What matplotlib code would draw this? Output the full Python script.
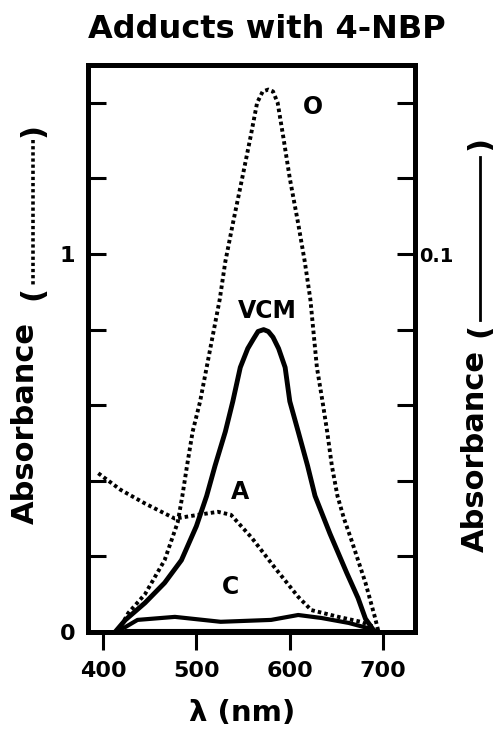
import numpy as np
import matplotlib
matplotlib.use('Agg')
import matplotlib.pyplot as plt
from matplotlib.lines import Line2D

plt.rcParams['font.family'] = ['DejaVu Sans']
plt.rcParams['font.weight'] = 'bold'

# curve O (dotted, left axis)
o_nm = [416, 427, 445, 466, 480, 485, 490, 496, 504, 511, 518, 525, 531, 539, 549, 558, 565, 571, 577,
        582, 587, 593, 600, 609, 616, 622, 629, 635, 640, 645, 651, 658, 666, 681, 691, 695]
o_abs = [0.0, 0.05, 0.10, 0.19, 0.29, 0.36, 0.44, 0.53, 0.61, 0.70, 0.79, 0.88, 0.98, 1.08, 1.20, 1.31, 1.40, 1.43, 1.435,
         1.43, 1.40, 1.31, 1.20, 1.08, 0.98, 0.88, 0.70, 0.61, 0.53, 0.44, 0.36, 0.30, 0.243, 0.13, 0.04, 0.0]

# curve VCM (solid)
vcm_nm = [413, 424, 445, 466, 484, 500, 511, 520, 531, 539, 547, 555, 561, 566, 572, 577, 582, 588,
          595, 600, 609, 619, 627, 643, 661, 673, 681, 691]
vcm_abs = [0.0, 0.032, 0.077, 0.13, 0.19, 0.28, 0.36, 0.44, 0.53, 0.61, 0.70, 0.75, 0.775, 0.795, 0.80, 0.795, 0.78, 0.75,
           0.70, 0.61, 0.53, 0.44, 0.36, 0.26, 0.156, 0.09, 0.035, 0.0]

# curve A (dotted)
a_nm = [395, 419, 445, 477, 502, 523, 537, 559, 584, 609, 623, 652, 676, 691]
a_abs = [0.42, 0.376, 0.34, 0.30, 0.31, 0.318, 0.31, 0.25, 0.17, 0.093, 0.058, 0.04, 0.027, 0.013]

# curve C (solid) and its baseline
c_nm = [415, 437, 477, 526, 580, 609, 634, 663, 684, 695]
c_abs = [0.0, 0.032, 0.04, 0.027, 0.032, 0.045, 0.037, 0.024, 0.01, 0.0]
base_nm = [425, 690]
base_abs = [0.006, 0.006]

left_ticks = [0, 0.2, 0.4, 0.6, 0.8, 1.0, 1.2, 1.4]
left_labels = ['0', '', '', '', '', '1', '', '']
right_ticks = [0, 0.02, 0.04, 0.06, 0.08, 0.1, 0.12, 0.14]
right_labels = ['', '', '', '', '', '0.1', '', '']
x_ticks = [400, 500, 600, 700]

W, H = 493, 731
fig = plt.figure(figsize=(W / 100, H / 100), dpi=100)
ax = fig.add_axes([88 / W, 1 - 632 / H, 327 / W, 567 / H])

dot = (0, (0.9, 0.8))
ax.plot(o_nm, o_abs, color='black', lw=2.8, linestyle=dot)
ax.plot(a_nm, a_abs, color='black', lw=2.8, linestyle=dot)
ax.plot(vcm_nm, vcm_abs, color='black', lw=3.5, solid_capstyle='round')
ax.plot(c_nm, c_abs, color='black', lw=3.0)
ax.plot(base_nm, base_abs, color='black', lw=1.5)

ax.set_xlim(384, 734)
ax.set_ylim(0, 1.5)
ax.set_xticks(x_ticks)
ax.set_yticks(left_ticks)
ax.set_yticklabels(left_labels)
ax.tick_params(axis='y', direction='in', length=13, width=2.2, pad=9, labelsize=16)
ax.tick_params(axis='x', direction='out', length=13, width=2.2, pad=8, labelsize=16)
for s in ax.spines.values():
    s.set_linewidth(3.5)

ax2 = ax.twinx()
ax2.set_ylim(0, 0.15)
ax2.set_yticks(right_ticks)
ax2.set_yticklabels(right_labels)
ax2.tick_params(axis='y', direction='in', length=13, width=2.2, pad=3, labelsize=14)
for s in ax2.spines.values():
    s.set_linewidth(3.5)

# curve labels
ax.text(625, 1.39, 'O', fontsize=17, ha='center', va='center')
ax.text(576, 0.85, 'VCM', fontsize=17, ha='center', va='center')
ax.text(547, 0.37, 'A', fontsize=17, ha='center', va='center')
ax.text(536, 0.12, 'C', fontsize=17, ha='center', va='center')

fig.text(267 / W, 1 - 30 / H, 'Adducts with 4-NBP', fontsize=23, ha='center', va='center')
fig.text(242 / W, 1 - 713 / H, 'λ (nm)', fontsize=21, ha='center', va='center')

# left axis label with dotted line sample
fig.text(25 / W, 1 - 423 / H, 'Absorbance', fontsize=22, rotation=90, ha='center', va='center')
fig.text(33 / W, 1 - 293 / H, '(', fontsize=22, rotation=90, ha='center', va='center')
fig.text(33 / W, 1 - 130 / H, ')', fontsize=22, rotation=90, ha='center', va='center')
fig.add_artist(Line2D([33 / W, 33 / W], [1 - 140 / H, 1 - 287 / H], transform=fig.transFigure,
                      color='black', lw=2.6, linestyle=dot))

# right axis label with solid line sample
fig.text(475 / W, 1 - 451 / H, 'Absorbance', fontsize=22, rotation=90, ha='center', va='center')
fig.text(480 / W, 1 - 330 / H, '(', fontsize=22, rotation=90, ha='center', va='center')
fig.text(480 / W, 1 - 143 / H, ')', fontsize=22, rotation=90, ha='center', va='center')
fig.add_artist(Line2D([480 / W, 480 / W], [1 - 157 / H, 1 - 320 / H], transform=fig.transFigure,
                      color='black', lw=2.0))

fig.savefig('out.png', dpi=100)
